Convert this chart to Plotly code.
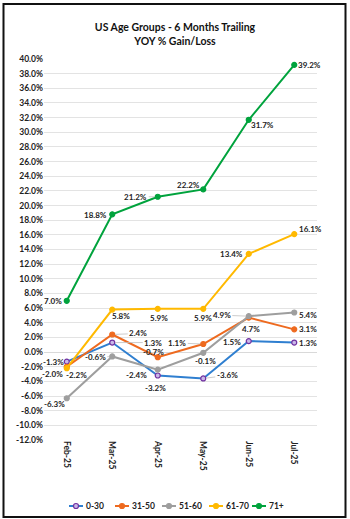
import plotly.graph_objects as go

months = ["Feb-25", "Mar-25", "Apr-25", "May-25", "Jun-25", "Jul-25"]
series_names = ["0-30", "31-50", "51-60", "61-70", "71+"]
v_0_30 = [-1.3, 1.3, -3.2, -3.6, 1.5, 1.3]
v_31_50 = [-2.0, 2.4, -0.7, 1.1, 4.7, 3.1]
v_51_60 = [-6.3, -0.6, -2.4, -0.1, 4.9, 5.4]
v_61_70 = [-2.2, 5.8, 5.9, 5.9, 13.4, 16.1]
v_71p = [7.0, 18.8, 21.2, 22.2, 31.7, 39.2]
values = [v_0_30, v_31_50, v_51_60, v_61_70, v_71p]
y_ticks = list(range(-12, 41, 2))

# styles
colors = ["#2F7FD0", "#EE6A1F", "#9E9E9E", "#FFB900", "#00A33D"]
marker_line = ["#7030A0", "#EE6A1F", "#9E9E9E", "#FFB900", "#00A33D"]
marker_fill = ["#C9B8E8", "#EE6A1F", "#9E9E9E", "#FFB900", "#00A33D"]
# label offsets (px) of label center from point, and leader-line flag
offsets = [
    [(-13, 0, 0), (41, 0, 1), (-2, 12, 0), (24, -3, 1), (-17, 1, 0), (14, 0, 0)],
    [(-14, 7, 0), (26, -1, 1), (-4, -5, 0), (-26, -1, 1), (2, 11, 0), (14, 0, 0)],
    [(-12, 6, 0), (-17, 1, 1), (-21, 5, 0), (2, 8, 0), (-27, -1, 1), (14, 2, 0)],
    [(10, 7, 0), (9, 6, 0), (1, 9, 0), (0, 9, 0), (-17, 0, 0), (16, -5, 0)],
    [(-14, 0, 0), (-17, 1, 0), (-22, 0, 1), (-15, -4, 0), (14, 5, 0), (15, 0, 0)],
]
# legend layout: symbol left x (px) for each entry, legend row y (px)
legend_x = [69, 115, 162, 209, 252]
legend_y = 506
legend_sym_w = 14

FONT = "Lato"
fig = go.Figure()
for i, name in enumerate(series_names):
    fig.add_trace(go.Scatter(
        x=months, y=values[i], name=name, mode="lines+markers",
        line=dict(color=colors[i], width=2),
        marker=dict(size=5, color=marker_fill[i], line=dict(color=marker_line[i], width=1.2)),
        showlegend=False,
    ))

annotations = []
for i in range(len(series_names)):
    for j, m in enumerate(months):
        dx, dy, leader = offsets[i][j]
        annotations.append(dict(
            x=m, y=values[i][j], xref="x", yref="y",
            text=f"{values[i][j]:.1f}%", showarrow=True,
            ax=dx, ay=dy, axref="pixel", ayref="pixel",
            arrowhead=0, arrowwidth=0.8, standoff=3,
            arrowcolor="#BFBFBF" if leader else "rgba(0,0,0,0)",
            font=dict(family=FONT, size=8, color="#222222", weight="bold"),
        ))

L, T, PW, PH = 44, 59, 273, 381
W, H = 350, 519
def px_x(p):
    return (p - L) / PW
def px_y(p):
    return (T + PH - p) / PH

shapes = [dict(
    type="rect", xref="paper", yref="paper",
    x0=px_x(3.5), x1=px_x(345.5), y0=px_y(517), y1=px_y(4),
    line=dict(color="#111111", width=2), fillcolor="rgba(0,0,0,0)", layer="above",
)]
for i, name in enumerate(series_names):
    x0 = legend_x[i]
    xc = x0 + legend_sym_w / 2
    shapes.append(dict(
        type="line", xref="paper", yref="paper",
        x0=px_x(x0), x1=px_x(x0 + legend_sym_w), y0=px_y(legend_y), y1=px_y(legend_y),
        line=dict(color=colors[i], width=2),
    ))
    shapes.append(dict(
        type="circle", xref="paper", yref="paper",
        x0=px_x(xc - 2.5), x1=px_x(xc + 2.5), y0=px_y(legend_y + 2.5), y1=px_y(legend_y - 2.5),
        line=dict(color=marker_line[i], width=1.2), fillcolor=marker_fill[i],
    ))
    annotations.append(dict(
        x=px_x(x0 + legend_sym_w + 1), y=px_y(legend_y), xref="paper", yref="paper",
        xanchor="left", yanchor="middle", showarrow=False, text=name,
        font=dict(family=FONT, size=8.5, color="#222222", weight="bold"),
    ))

fig.update_layout(
    width=W, height=H,
    margin=dict(l=L, r=W - L - PW, t=T, b=H - T - PH),
    paper_bgcolor="white", plot_bgcolor="white",
    showlegend=False,
    title=dict(
        text="US Age Groups - 6 Months Trailing<br>YOY % Gain/Loss",
        x=0.5, xref="container", xanchor="center",
        y=1 - 31 / H, yref="container", yanchor="middle",
        font=dict(family=FONT, size=10.5, color="#111111", weight="bold"),
    ),
    xaxis=dict(
        type="category", range=[-0.5, 5.5], showgrid=False, tickangle=90,
        showline=False, ticks="",
        tickfont=dict(family=FONT, size=8.5, color="#222222", weight="bold"),
    ),
    yaxis=dict(
        range=[-12, 40], tickvals=y_ticks, ticktext=[f"{t:.1f}%" for t in y_ticks],
        showgrid=True, gridcolor="#E3E3E3", gridwidth=1,
        zeroline=True, zerolinecolor="#D9D9D9", zerolinewidth=1,
        showline=False, ticks="",
        tickfont=dict(family=FONT, size=8.5, color="#222222", weight="bold"),
    ),
    annotations=annotations,
    shapes=shapes,
)

fig.write_html("out.html")
